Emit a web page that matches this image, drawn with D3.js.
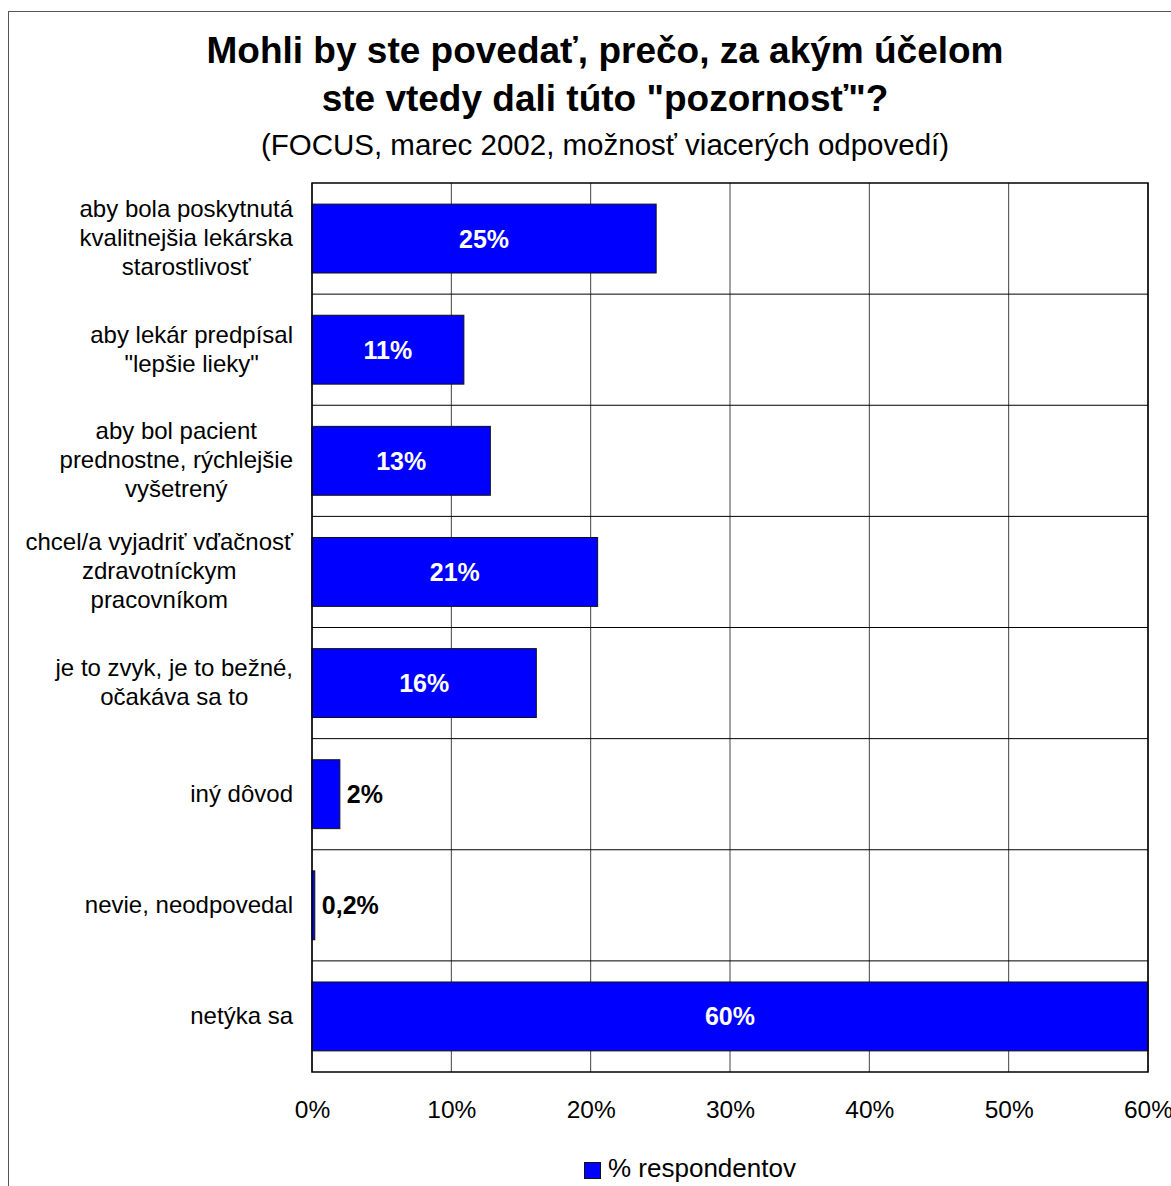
<!DOCTYPE html>
<html>
<head>
<meta charset="utf-8">
<script src="https://cdn.jsdelivr.net/npm/d3@7"></script>
<style>
    body { margin: 0; background: #fff; }
    svg { display: block; font-family: "Liberation Sans", Arial, sans-serif; }
</style>
</head>
<body>
<div id="chart"></div>
<script>

// answers, each one split into the lines shown on the chart
var categories = [
    ["aby bola poskytnutá", "kvalitnejšia lekárska", "starostlivosť"],
    ["aby lekár predpísal", "\"lepšie lieky\""],
    ["aby bol pacient", "prednostne, rýchlejšie", "vyšetrený"],
    ["chcel/a vyjadriť vďačnosť", "zdravotníckym", "pracovníkom"],
    ["je to zvyk, je to bežné,", "očakáva sa to"],
    ["iný dôvod"],
    ["nevie, neodpovedal"],
    ["netýka sa"]
];
var values = [24.7, 10.9, 12.8, 20.5, 16.1, 2.0, 0.2, 60.0];
var valueLabels = ["25%", "11%", "13%", "21%", "16%", "2%", "0,2%", "60%"];
var tickValues = [0, 10, 20, 30, 40, 50, 60];
var seriesName = "% respondentov";

var titleLines = ["Mohli by ste povedať, prečo, za akým účelom", "ste vtedy dali túto \"pozornosť\"?"];
var subtitle = "(FOCUS, marec 2002, možnosť viacerých odpovedí)";

function drawChart() {
    var W = 1171, H = 1186;
    var plot = {left: 312, right: 1148, top: 183, bottom: 1072};
    var barColor = "#0000ff";

    var svg = d3.select("#chart").append("svg")
        .attr("width", W)
        .attr("height", H);

    // outer chart frame, runs off the right and bottom edge
    svg.append("rect")
        .attr("x", 8.5).attr("y", 11.5)
        .attr("width", 1200).attr("height", 1200)
        .attr("fill", "none")
        .attr("stroke", "#555")
        .attr("stroke-width", 1);

    var x = d3.scaleLinear().domain([0, 60]).range([plot.left, plot.right]);
    var y = d3.scaleBand()
        .domain(d3.range(categories.length))
        .range([plot.top, plot.bottom])
        .paddingInner(0.38)
        .paddingOuter(0.19);
    var step = y.step();

    /* titles */
    svg.selectAll(".title")
        .data(titleLines)
        .enter().append("text")
        .attr("class", "title")
        .attr("x", 605)
        .attr("y", function (d, i) { return 63 + i * 48; })
        .attr("text-anchor", "middle")
        .style("font-size", "37px")
        .style("font-weight", "bold")
        .text(function (d) { return d; });

    svg.append("text")
        .attr("x", 605)
        .attr("y", 155)
        .attr("text-anchor", "middle")
        .style("font-size", "29.5px")
        .text(subtitle);

    // vertical gridlines
    svg.append("g")
        .selectAll("line")
        .data(tickValues)
        .enter().append("line")
        .attr("x1", function (d) { return x(d); })
        .attr("x2", function (d) { return x(d); })
        .attr("y1", plot.top)
        .attr("y2", plot.bottom)
        .attr("stroke", "#444")
        .attr("stroke-width", 1);

    // horizontal lines between categories
    svg.append("g")
        .selectAll("line")
        .data(d3.range(1, categories.length))
        .enter().append("line")
        .attr("x1", plot.left)
        .attr("x2", plot.right)
        .attr("y1", function (d) { return plot.top + d * step; })
        .attr("y2", function (d) { return plot.top + d * step; })
        .attr("stroke", "#000")
        .attr("stroke-width", 1);

    // bars
    svg.append("g")
        .selectAll("rect")
        .data(values)
        .enter().append("rect")
        .attr("x", x(0))
        .attr("y", function (d, i) { return y(i); })
        .attr("width", function (d) { return x(d) - x(0); })
        .attr("height", y.bandwidth())
        .attr("fill", barColor)
        .attr("stroke", "#111")
        .attr("stroke-width", 1);

    // plot outline
    svg.append("rect")
        .attr("x", plot.left).attr("y", plot.top)
        .attr("width", plot.right - plot.left)
        .attr("height", plot.bottom - plot.top)
        .attr("fill", "none")
        .attr("stroke", "#000")
        .attr("stroke-width", 1.5);

    // value labels: inside the bar when it fits, else just right of it
    svg.append("g")
        .selectAll("text")
        .data(values)
        .enter().append("text")
        .attr("x", function (d) {
            var w = x(d) - x(0);
            return w > 80 ? x(0) + w / 2 : x(d) + 7;
        })
        .attr("y", function (d, i) { return y(i) + y.bandwidth() / 2; })
        .attr("dy", "0.36em")
        .attr("text-anchor", function (d) { return (x(d) - x(0)) > 80 ? "middle" : "start"; })
        .attr("fill", function (d) { return (x(d) - x(0)) > 80 ? "#fff" : "#000"; })
        .style("font-size", "25px")
        .style("font-weight", "bold")
        .text(function (d, i) { return valueLabels[i]; });

    // category labels: lines centred within a block whose right edge sits at 293
    var lineH = 29, labelRight = 293;
    var cat = svg.append("g")
        .selectAll("text")
        .data(categories)
        .enter().append("text")
        .attr("text-anchor", "middle")
        .style("font-size", "24px");

    cat.each(function (lines, i) {
        var cy = y(i) + y.bandwidth() / 2;
        var spans = d3.select(this).selectAll("tspan")
            .data(lines)
            .enter().append("tspan")
            .attr("y", function (d, j) { return cy + (j - (lines.length - 1) / 2) * lineH + 7.5; })
            .text(function (d) { return d; });
        var maxW = 0;
        spans.each(function () { maxW = Math.max(maxW, this.getComputedTextLength()); });
        spans.attr("x", labelRight - maxW / 2);
    });

    // x axis tick labels
    var xAxis = d3.axisBottom(x)
        .tickValues(tickValues)
        .tickSize(0)
        .tickPadding(0)
        .tickFormat(function (d) { return d + "%"; });

    var gx = svg.append("g")
        .attr("transform", "translate(0," + plot.bottom + ")")
        .call(xAxis);
    gx.select(".domain").remove();
    gx.selectAll("text")
        .attr("y", 46)
        .attr("dy", 0)
        .attr("fill", "#000")
        .style("font-size", "24.5px")
        .style("font-family", "\"Liberation Sans\", Arial, sans-serif");

    // legend
    var legend = svg.append("g").attr("transform", "translate(584,1162)");
    legend.append("rect")
        .attr("x", 0.5).attr("y", 0.5)
        .attr("width", 16).attr("height", 16)
        .attr("fill", barColor)
        .attr("stroke", "#111");
    legend.append("text")
        .attr("x", 24)
        .attr("y", 15)
        .style("font-size", "26px")
        .text(seriesName);
}

drawChart();
</script>
</body>
</html>
